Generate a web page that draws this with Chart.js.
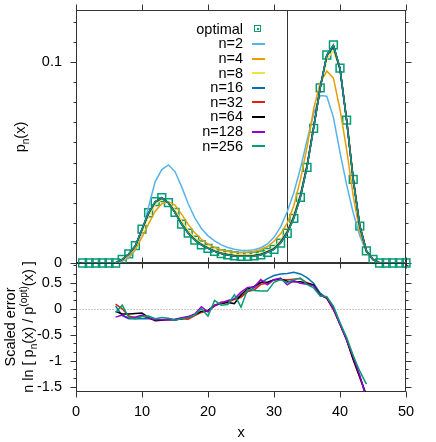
<!DOCTYPE html>
<html>
<head>
<meta charset="utf-8">
<script src="https://cdn.jsdelivr.net/npm/chart.js@4.4.1/dist/chart.umd.min.js"></script>
<style>
  body { margin: 0; background: #fff; }
  #wrap { position: relative; width: 436px; height: 442px; overflow: hidden;
          font-family: "Liberation Sans", Arial, sans-serif; font-size: 14.5px; color: #000; }
  canvas { position: absolute; left: 0; }
  #topChart { top: 0; }
  #bottomChart { top: 255px; }
  .lbl { position: absolute; white-space: nowrap; line-height: 1; }
  .rot { transform: translate(-50%, -50%) rotate(-90deg); }
  .lbl sub, .lbl sup { font-size: 10px; line-height: 0; }
  .key-text { position: absolute; left: 0; width: 243px; text-align: right; line-height: 15px; }
  .key-line { position: absolute; left: 252px; width: 13px; height: 1.5px; }
  .key-box { position: absolute; left: 254px; width: 5px; height: 5px; border: 1.5px solid #009e73; }
  .key-box::after { content: ""; position: absolute; left: 1.5px; top: 1.5px; width: 2px; height: 2px; background: #009e73; }
</style>
</head>
<body>
<div id="wrap">
  <canvas id="topChart" width="436" height="275"></canvas>
  <canvas id="bottomChart" width="436" height="187"></canvas>
  <div id="legend"></div>
  <div class="lbl rot" style="left:20px; top:137px;">p<sub>n</sub>(x)</div>
  <div class="lbl rot" style="left:10px; top:327px;">Scaled error</div>
  <div class="lbl rot" style="left:28px; top:327px;">n ln [ p<sub>n</sub>(x) / p<sup>(opt)</sup>(x) ]</div>
  <div class="lbl" style="left:241px; top:432px; transform: translate(-50%, -50%);">x</div>
</div>
<script>
// x positions of the distribution
const xValues = [1, 2, 3, 4, 5, 6, 7, 8, 9, 10, 11, 12, 13, 14, 15, 16, 17, 18, 19, 20,
  21, 22, 23, 24, 25, 26, 27, 28, 29, 30, 31, 32, 33, 34, 35, 36, 37, 38, 39, 40,
  41, 42, 43, 44, 45, 46, 47, 48, 49, 50];

const pOptimal = [0, 0, 0, 0, 0, 0, 0.0018, 0.0045, 0.0086, 0.0169,
  0.0250, 0.0305, 0.0325, 0.0300, 0.0252, 0.0194, 0.0149, 0.0114, 0.0090, 0.0073,
  0.0058, 0.0047, 0.0040, 0.0035, 0.0033, 0.0033, 0.0035, 0.0040, 0.0053, 0.0068,
  0.0099, 0.0148, 0.0222, 0.0327, 0.0476, 0.0670, 0.0872, 0.1035, 0.1085, 0.0970,
  0.0711, 0.0416, 0.0184, 0.0060, 0.0018, 0, 0, 0, 0, 0];

const pN2 = [0, 0, 0, 0, 0, 0.0002, 0.0008, 0.0025, 0.0065, 0.0150,
  0.0280, 0.0405, 0.0465, 0.0488, 0.0455, 0.0380, 0.0295, 0.0225, 0.0172, 0.0135,
  0.0110, 0.0090, 0.0077, 0.0068, 0.0063, 0.0062, 0.0066, 0.0076, 0.0095, 0.0128,
  0.0180, 0.0255, 0.0350, 0.0470, 0.0610, 0.0740, 0.0833, 0.0830, 0.0725, 0.0550,
  0.0390, 0.0250, 0.0135, 0.0055, 0.0017, 0.0003, 0, 0, 0, 0];

const pN4 = [0, 0, 0, 0, 0, 0.0003, 0.0012, 0.0032, 0.0068, 0.0128,
  0.0195, 0.0258, 0.0295, 0.0305, 0.0288, 0.0243, 0.0192, 0.0150, 0.0118, 0.0095,
  0.0078, 0.0066, 0.0058, 0.0054, 0.0052, 0.0053, 0.0057, 0.0066, 0.0082, 0.0108,
  0.0145, 0.0198, 0.0285, 0.0415, 0.0575, 0.0765, 0.0895, 0.0955, 0.0920, 0.0765,
  0.0565, 0.0335, 0.0155, 0.0055, 0.0014, 0.0002, 0, 0, 0, 0];

const pN8 = [0, 0, 0, 0, 0, 0.0001, 0.0015, 0.0040, 0.0080, 0.0155,
  0.0235, 0.0292, 0.0315, 0.0305, 0.0265, 0.0210, 0.0162, 0.0125, 0.0098, 0.0079,
  0.0064, 0.0053, 0.0046, 0.0042, 0.0040, 0.0040, 0.0042, 0.0048, 0.0060, 0.0078,
  0.0112, 0.0162, 0.0240, 0.0345, 0.0490, 0.0675, 0.0865, 0.1015, 0.1055, 0.0965,
  0.0725, 0.0435, 0.0195, 0.0065, 0.0018, 0.0002, 0, 0, 0, 0];

const pN16 = [0, 0, 0, 0, 0, 0, 0.0017, 0.0044, 0.0084, 0.0165,
  0.0246, 0.0302, 0.0322, 0.0299, 0.0252, 0.0195, 0.0150, 0.0116, 0.0092, 0.0075,
  0.0060, 0.0049, 0.0042, 0.0037, 0.0035, 0.0035, 0.0037, 0.0043, 0.0056, 0.0072,
  0.0106, 0.0155, 0.0231, 0.0336, 0.0485, 0.0677, 0.0873, 0.1030, 0.1075, 0.0962,
  0.0712, 0.0420, 0.0186, 0.0061, 0.0018, 0, 0, 0, 0, 0];

const pN32 = [0, 0, 0, 0, 0, 0, 0.0018, 0.0045, 0.0085, 0.0167,
  0.0248, 0.0304, 0.0324, 0.0300, 0.0252, 0.0194, 0.0149, 0.0115, 0.0091, 0.0074,
  0.0059, 0.0048, 0.0041, 0.0036, 0.0034, 0.0034, 0.0036, 0.0042, 0.0055, 0.0070,
  0.0103, 0.0152, 0.0227, 0.0332, 0.0481, 0.0674, 0.0873, 0.1033, 0.1081, 0.0966,
  0.0711, 0.0418, 0.0185, 0.0060, 0.0018, 0, 0, 0, 0, 0];

const pN64 = [0, 0, 0, 0, 0, 0, 0.0018, 0.0045, 0.0086, 0.0168,
  0.0249, 0.0305, 0.0325, 0.0300, 0.0252, 0.0194, 0.0149, 0.0114, 0.0090, 0.0073,
  0.0058, 0.0047, 0.0040, 0.0035, 0.0033, 0.0034, 0.0036, 0.0041, 0.0054, 0.0069,
  0.0101, 0.0150, 0.0225, 0.0330, 0.0479, 0.0672, 0.0872, 0.1034, 0.1083, 0.0968,
  0.0711, 0.0417, 0.0184, 0.0060, 0.0018, 0, 0, 0, 0, 0];

const pN128 = [0, 0, 0, 0, 0, 0, 0.0018, 0.0045, 0.0086, 0.0169,
  0.0250, 0.0305, 0.0325, 0.0300, 0.0252, 0.0194, 0.0149, 0.0114, 0.0090, 0.0073,
  0.0058, 0.0047, 0.0040, 0.0035, 0.0033, 0.0033, 0.0035, 0.0040, 0.0053, 0.0068,
  0.0100, 0.0149, 0.0223, 0.0328, 0.0477, 0.0671, 0.0872, 0.1035, 0.1084, 0.0969,
  0.0711, 0.0416, 0.0184, 0.0060, 0.0018, 0, 0, 0, 0, 0];

const pN256 = [0, 0, 0, 0, 0, 0, 0.0018, 0.0045, 0.0086, 0.0169,
  0.0250, 0.0305, 0.0325, 0.0300, 0.0252, 0.0194, 0.0149, 0.0114, 0.0090, 0.0073,
  0.0058, 0.0047, 0.0040, 0.0035, 0.0033, 0.0033, 0.0035, 0.0040, 0.0053, 0.0068,
  0.0099, 0.0148, 0.0222, 0.0327, 0.0476, 0.0670, 0.0872, 0.1035, 0.1085, 0.0970,
  0.0711, 0.0416, 0.0184, 0.0060, 0.0018, 0, 0, 0, 0, 0];

// scaled error n ln(p_n / p_opt), bottom panel
const errX = [6, 7, 8, 9, 10, 11, 12, 13, 14, 15, 16, 17, 18, 19, 20, 21, 22, 23, 24, 25,
  26, 27, 28, 29, 30, 31, 32, 33, 34, 35, 36, 37, 38, 39, 40, 41, 42, 43, 44];

const errN16 = [0.05, -0.13, -0.19, -0.19, -0.19, -0.19, -0.20, -0.21, -0.21, -0.21,
  -0.19, -0.17, -0.12, -0.06, -0.03, 0.06, 0.10, 0.14, 0.19, 0.25,
  0.33, 0.40, 0.50, 0.58, 0.64, 0.67, 0.68, 0.70, 0.67, 0.60,
  0.49, 0.30, 0.20, 0.02, -0.28, -0.58, -0.95, -1.30, -1.70];
const errN32 = [0.09, 0.00, -0.14, -0.17, -0.14, -0.18, -0.20, -0.21, -0.20, -0.21,
  -0.19, -0.20, -0.13, -0.07, -0.04, 0.05, 0.13, 0.12, 0.18, 0.22,
  0.33, 0.36, 0.47, 0.49, 0.56, 0.56, 0.56, 0.57, 0.58, 0.50,
  0.45, 0.27, 0.20, -0.02, -0.30, -0.60, -0.98, -1.32, -1.68];
const errN64 = [-0.05, -0.10, -0.10, -0.09, -0.08, -0.17, -0.23, -0.22, -0.20, -0.21,
  -0.19, -0.16, -0.11, -0.05, -0.04, 0.07, 0.10, 0.12, 0.10, 0.27,
  0.38, 0.43, 0.51, 0.51, 0.56, 0.57, 0.53, 0.52, 0.52, 0.49,
  0.46, 0.26, 0.21, 0.00, -0.29, -0.59, -0.97, -1.31, -1.66];
const errN128 = [-0.16, -0.12, -0.18, -0.16, -0.12, -0.18, -0.21, -0.21, -0.21, -0.20,
  -0.17, -0.15, -0.10, 0.04, -0.06, 0.07, 0.11, 0.16, 0.19, 0.32,
  0.41, 0.42, 0.56, 0.46, 0.56, 0.59, 0.46, 0.54, 0.49, 0.47,
  0.44, 0.25, 0.22, 0.00, -0.30, -0.60, -0.92, -1.28, -1.72];
const errN256 = [-0.07, 0.07, -0.17, -0.19, -0.15, -0.14, -0.19, -0.17, -0.18, -0.22,
  -0.19, -0.17, -0.12, 0.00, -0.14, 0.16, 0.07, 0.08, 0.27, 0.03,
  0.37, 0.35, 0.34, 0.34, 0.51, 0.56, 0.50, 0.56, 0.59, 0.47,
  0.40, 0.25, 0.23, 0.05, -0.27, -0.55, -0.90, -1.20, -1.45];

const xTicks = [0, 10, 20, 30, 40, 50];
const topYTicks = [0, 0.1];
const bottomYTicks = [-1.5, -1, -0.5, 0, 0.5];
const xMarker = 32;

const seriesNames = ["n=2", "n=4", "n=8", "n=16", "n=32", "n=64", "n=128", "n=256"];
const seriesColors = ["#56b4e9", "#e69f00", "#f0e442", "#0072b2", "#e51e10", "#000000", "#9400d3", "#009e73"];
const optimalColor = "#009e73";

const FONT = { family: "'Liberation Sans', Arial, sans-serif", size: 14.5 };

function toPoints(xs, ys) {
    return xs.map((x, i) => ({ x: x, y: ys[i] }));
}

// fixed axis box: no extra label padding so the plot area sits where it should
function fixAxis(size) {
    return s => {
        if (s.isHorizontal()) s.height = size; else s.width = size;
        s.paddingTop = 0; s.paddingBottom = 0;
        s.paddingLeft = 0; s.paddingRight = 0;
    };
}

// draws frame, outward tick marks on all four sides, marker and zero lines
const framePlugin = {
    id: "frame",
    beforeDatasetsDraw(chart, args, opts) {
        const ctx = chart.ctx;
        const a = chart.chartArea;
        const xs = chart.scales.x, ys = chart.scales.y;
        const L = Math.round(a.left) + 0.5, R = Math.round(a.right) - 0.5;
        const T = Math.round(a.top) + 0.5, B = Math.round(a.bottom) - 0.5;
        ctx.save();

        if (opts.zeroLine) {
            const y0 = Math.round(ys.getPixelForValue(0)) + 0.5;
            ctx.strokeStyle = "#999";
            ctx.setLineDash([1, 2]);
            ctx.beginPath(); ctx.moveTo(L, y0); ctx.lineTo(R, y0); ctx.stroke();
            ctx.setLineDash([]);
        }
        if (opts.marker != null) {
            const xm = Math.round(xs.getPixelForValue(opts.marker)) + 0.5;
            ctx.strokeStyle = "#333";
            ctx.beginPath(); ctx.moveTo(xm, T); ctx.lineTo(xm, B); ctx.stroke();
        }

        ctx.strokeStyle = "#333";
        ctx.lineWidth = 1;
        ctx.strokeRect(L, T, R - L, B - T);

        ctx.beginPath();
        xTicks.forEach(v => {
            const px = Math.round(xs.getPixelForValue(v)) + 0.5;
            ctx.moveTo(px, T); ctx.lineTo(px, T - 6);
            ctx.moveTo(px, B); ctx.lineTo(px, B + 6);
        });
        opts.yMajor.forEach(v => {
            const py = Math.round(ys.getPixelForValue(v)) + 0.5;
            ctx.moveTo(L, py); ctx.lineTo(L - 6, py);
            ctx.moveTo(R, py); ctx.lineTo(R + 6, py);
        });
        const lo = ys.min, hi = ys.max;
        for (let k = Math.ceil(lo / opts.yMinorStep - 1e-6); k * opts.yMinorStep <= hi + 1e-9; k++) {
            const v = k * opts.yMinorStep;
            const py = Math.round(ys.getPixelForValue(v)) + 0.5;
            ctx.moveTo(L, py); ctx.lineTo(L - 3, py);
            ctx.moveTo(R, py); ctx.lineTo(R + 3, py);
        }
        ctx.stroke();
        ctx.restore();
    }
};

const topSeries = [pN2, pN4, pN8, pN16, pN32, pN64, pN128, pN256];

const topDatasets = [{
    label: "optimal",
    data: toPoints(xValues, pOptimal),
    showLine: false,
    pointStyle: "rect",
    pointRadius: 5.5,
    pointBorderWidth: 1.5,
    borderColor: optimalColor,
    backgroundColor: "rgba(0,0,0,0)",
    clip: false,
    order: 20
}];
topSeries.forEach((s, i) => {
    topDatasets.push({
        label: seriesNames[i],
        data: toPoints(xValues, s),
        borderColor: seriesColors[i],
        borderWidth: 1.5,
        pointRadius: 0,
        tension: 0,
        order: 10 - i
    });
});

new Chart(document.getElementById("topChart"), {
    type: "line",
    data: { datasets: topDatasets },
    options: {
        responsive: false,
        animation: false,
        layout: { padding: { left: 0, right: 30, top: 10, bottom: 12 } },
        plugins: {
            legend: { display: false },
            tooltip: { enabled: false },
            frame: { yMajor: topYTicks, yMinorStep: 0.01, marker: xMarker }
        },
        scales: {
            x: { type: "linear", min: 0, max: 50, display: false },
            y: {
                min: 0, max: 0.1259,
                grid: { display: false, drawTicks: false },
                border: { display: false },
                afterFit: fixAxis(76),
                afterBuildTicks: s => { s.ticks = topYTicks.map(v => ({ value: v })); },
                ticks: { padding: 14, color: "#000", font: FONT, callback: v => String(v) }
            }
        }
    },
    plugins: [framePlugin]
});

const errSeries = [errN16, errN32, errN64, errN128, errN256];
const bottomDatasets = errSeries.map((s, i) => ({
    label: seriesNames[i + 3],
    data: toPoints(errX, s),
    borderColor: seriesColors[i + 3],
    borderWidth: 1.5,
    pointRadius: 0,
    tension: 0,
    order: 10 - i
}));

new Chart(document.getElementById("bottomChart"), {
    type: "line",
    data: { datasets: bottomDatasets },
    options: {
        responsive: false,
        animation: false,
        layout: { padding: { left: 0, right: 30, top: 8, bottom: 0 } },
        plugins: {
            legend: { display: false },
            tooltip: { enabled: false },
            frame: { yMajor: bottomYTicks, yMinorStep: 0.5 / 3, zeroLine: true }
        },
        scales: {
            x: {
                type: "linear", min: 0, max: 50,
                grid: { display: false, drawTicks: false },
                border: { display: false },
                afterFit: fixAxis(50),
                afterBuildTicks: s => { s.ticks = xTicks.map(v => ({ value: v })); },
                ticks: { padding: 11, color: "#000", font: FONT, maxRotation: 0, callback: v => String(v) }
            },
            y: {
                min: -1.6, max: 0.88,
                grid: { display: false, drawTicks: false },
                border: { display: false },
                afterFit: fixAxis(76),
                afterBuildTicks: s => { s.ticks = bottomYTicks.map(v => ({ value: v })); },
                ticks: { padding: 14, color: "#000", font: FONT, callback: v => String(v) }
            }
        }
    },
    plugins: [framePlugin]
});

// key inside the top panel
const legend = document.getElementById("legend");
const keyNames = ["optimal"].concat(seriesNames);
keyNames.forEach((name, i) => {
    const y = 29.3 + i * 14.6;
    const t = document.createElement("div");
    t.className = "key-text";
    t.style.top = (y - 7.5) + "px";
    t.textContent = name;
    legend.appendChild(t);
    if (i === 0) {
        const b = document.createElement("div");
        b.className = "key-box";
        b.style.top = (Math.round(y) - 4) + "px";
        legend.appendChild(b);
    } else {
        const l = document.createElement("div");
        l.className = "key-line";
        l.style.top = (Math.round(y) - 1) + "px";
        l.style.background = seriesColors[i - 1];
        legend.appendChild(l);
    }
});
</script>
</body>
</html>
